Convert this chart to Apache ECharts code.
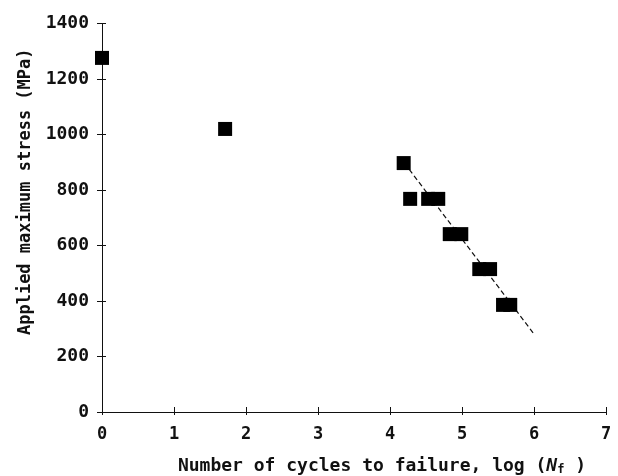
<!DOCTYPE html>
<html>
<head>
<meta charset="utf-8">
<script src="https://cdn.jsdelivr.net/npm/echarts@6/dist/echarts.min.js"></script>
<style>
  html, body { margin: 0; padding: 0; background: #fff; }
  #chart { width: 618px; height: 476px; }
</style>
</head>
<body>
<div id="chart"></div>
<script>
// 数据：log(Nf) 与最大应力 (MPa)
const logCycles = [0, 1.71, 4.19, 4.28, 4.53, 4.67, 4.83, 4.99, 5.24, 5.39, 5.57, 5.67];
const stressMPa = [1276, 1020, 897, 768, 768, 768, 641, 641, 515, 515, 386, 386];
// 拟合虚线的两个端点
const fitLogCycles = [4.2, 6.0];
const fitStress = [897, 281];
// 刻度
const xTicks = [0, 1, 2, 3, 4, 5, 6, 7];
const yTicks = [0, 200, 400, 600, 800, 1000, 1200, 1400];

const font = "'DejaVu Sans Mono', monospace";
const ink = '#111';

const chart = echarts.init(document.getElementById('chart'));

const points = logCycles.map((x, i) => [x, stressMPa[i]]);
const fit = fitLogCycles.map((x, i) => [x, fitStress[i]]);

const xMin = xTicks[0], xMax = xTicks[xTicks.length - 1];
const yMin = yTicks[0], yMax = yTicks[yTicks.length - 1];

const option = {
  animation: false,
  grid: { left: 102, right: 12, top: 23.5, bottom: 64, containLabel: false, outerBoundsMode: 'none' },
  xAxis: [
    {
      type: 'value', min: xMin, max: xMax, interval: 1,
      name: 'Number of cycles to failure, log ({i|N}{s|f} )',
      nameLocation: 'middle', nameGap: 44,
      nameTextStyle: {
        fontFamily: font, fontSize: 18, fontWeight: 'bold', color: ink, padding: [0, 0, 0, 56],
        rich: {
          i: { fontFamily: font, fontSize: 18, fontWeight: 'bold', fontStyle: 'italic', color: ink },
          s: { fontFamily: font, fontSize: 12, fontWeight: 'bold', color: ink, padding: [8, 0, 0, 0] }
        }
      },
      axisLine: { lineStyle: { color: ink, width: 1 } },
      axisTick: { inside: true, length: 5, lineStyle: { color: ink } },
      axisLabel: { fontFamily: font, fontSize: 17, fontWeight: 'bold', color: ink, margin: 14 },
      splitLine: { show: false }
    },
    {
      type: 'value', min: xMin, max: xMax, interval: 1, position: 'bottom',
      axisLine: { show: false },
      axisTick: { inside: false, length: 3, lineStyle: { color: ink } },
      axisLabel: { show: false },
      splitLine: { show: false }
    }
  ],
  yAxis: [
    {
      type: 'value', min: yMin, max: yMax, interval: 200,
      name: 'Applied maximum stress (MPa)',
      nameLocation: 'middle', nameGap: 68, nameRotate: 90,
      nameTextStyle: { fontFamily: font, fontSize: 17, fontWeight: 'bold', color: ink, padding: [0, 0, 0, 52] },
      axisLine: { lineStyle: { color: ink, width: 1 } },
      axisTick: { inside: false, length: 5, lineStyle: { color: ink } },
      axisLabel: { fontFamily: font, fontSize: 18, fontWeight: 'bold', color: ink, margin: 13, formatter: v => String(v) },
      splitLine: { show: false }
    },
    {
      type: 'value', min: yMin, max: yMax, interval: 200, position: 'left',
      axisLine: { show: false },
      axisTick: { inside: true, length: 4, lineStyle: { color: ink } },
      axisLabel: { show: false },
      splitLine: { show: false }
    }
  ],
  series: [
    {
      type: 'line',
      data: fit,
      symbol: 'none',
      lineStyle: { color: ink, width: 1.2, type: [5, 3] },
      z: 1
    },
    {
      type: 'scatter',
      data: points,
      symbol: 'rect',
      symbolSize: 14,
      itemStyle: { color: '#000', opacity: 1 },
      z: 2
    }
  ]
};

chart.setOption(option);
</script>
</body>
</html>
